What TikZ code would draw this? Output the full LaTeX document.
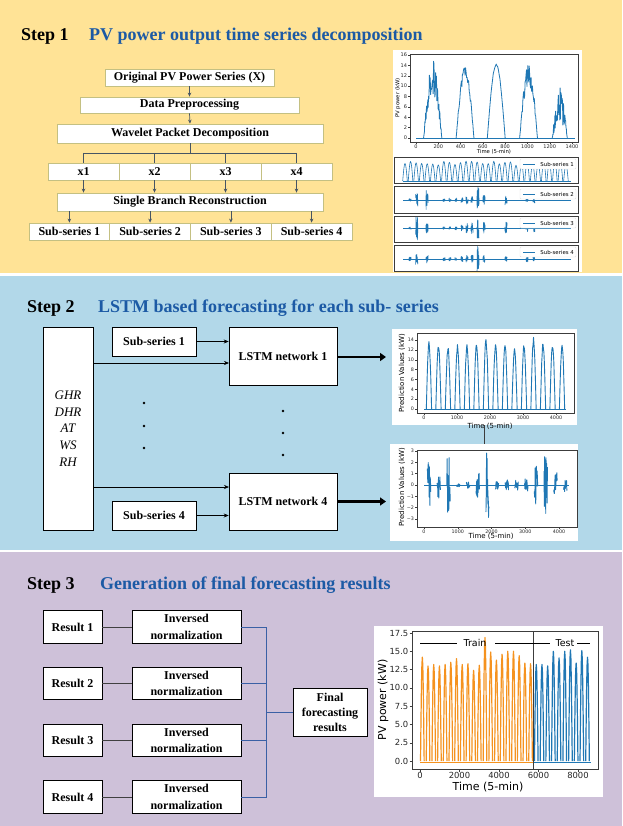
\documentclass[tikz,border=0pt]{standalone}
\usepackage{fontspec}
\setmainfont{Liberation Serif}
\newfontfamily\plotfont{DejaVu Sans}
\usetikzlibrary{arrows.meta,calc}
\definecolor{bgyellow}{RGB}{255,227,150}
\definecolor{bgblue}{RGB}{178,216,233}
\definecolor{bglav}{RGB}{206,193,217}
\definecolor{titleblue}{RGB}{28,90,165}
\definecolor{boxkhaki}{RGB}{196,192,130}
\definecolor{connslate}{RGB}{70,85,100}
\definecolor{mplblue}{RGB}{31,119,180}
\definecolor{mplorange}{RGB}{245,146,30}
\definecolor{connblue}{RGB}{58,96,165}
\definecolor{axgrey}{RGB}{60,60,60}
% style, center, halfwidth, peak, noise, samples
\newcommand\pvhump[6]{\draw[#1] plot[domain=#2-#3:#2+#3, samples=#6] (\x,{#4*sin((\x-(#2)+(#3))/(2*(#3))*180)*(1-#5*rnd)});}
% style, center, y0, halfwidth, amplitude
\newcommand\pvburst[5]{\draw[#1] plot[domain=#2-#4:#2+#4, samples=13] (\x,{#3+#5*rand});}
\tikzset{
  steptitle/.style={font=\bfseries\fontsize{18}{20}\selectfont, inner sep=0pt, anchor=base west},
  subtitle/.style={steptitle, text=titleblue},
  s1box/.style={draw=boxkhaki, fill=white, line width=0.8pt, inner sep=0pt, font=\bfseries\fontsize{12}{14}\selectfont},
  s1arr/.style={draw=connslate, line width=0.7pt, -{Stealth[length=4pt,width=3.6pt]}},
  s1line/.style={draw=connslate, line width=0.8pt},
  s2box/.style={draw=black, fill=white, line width=0.6pt, inner sep=0pt, font=\bfseries\fontsize{12}{14}\selectfont},
  s2arr/.style={draw=black, line width=0.6pt, -{Stealth[length=5pt,width=4pt]}},
  thickarr/.style={draw=black, line width=2.2pt, -{Triangle[length=6pt,width=8pt]}},
  s3box/.style={draw=black, fill=white, line width=0.8pt, inner sep=0pt, align=center, font=\bfseries\fontsize{12}{16.7}\selectfont},
  s3line/.style={draw=black!75, line width=0.8pt},
  s3blue/.style={draw=connblue, line width=0.8pt},
  plotbg/.style={fill=white, draw=none, inner sep=0pt},
  axframe/.style={draw=axgrey, line width=0.7pt},
  tickmark/.style={draw=axgrey, line width=0.4pt},
  tickA/.style={font=\plotfont\fontsize{5}{6}\selectfont, inner sep=0.3pt, text=black!85},
  tickB/.style={font=\plotfont\fontsize{4.8}{6}\selectfont, inner sep=0.3pt, text=black!85},
  tickC/.style={font=\plotfont\fontsize{8.4}{10}\selectfont, inner sep=0.5pt, text=black!85},
  labA/.style={font=\plotfont\fontsize{5.3}{6}\selectfont, inner sep=0pt},
  labB/.style={font=\plotfont\fontsize{7}{8}\selectfont, inner sep=0pt},
  labC/.style={font=\plotfont\fontsize{11}{13}\selectfont, inner sep=0pt},
  legtext/.style={font=\plotfont\fontsize{5.4}{6}\selectfont, inner sep=0pt, anchor=east},
  pA/.style={draw=mplblue, line width=0.8pt, line join=round},
  pS/.style={draw=mplblue, line width=0.6pt, line join=round},
  pB/.style={draw=mplblue, line width=0.9pt, line join=round},
  pCb/.style={draw=mplblue, line width=1.2pt, line join=round},
  pCo/.style={draw=mplorange, line width=1.2pt, line join=round},
}
\begin{document}
\begin{tikzpicture}[x=1pt,y=-1pt]
\pgfmathsetseed{12}
\useasboundingbox (0,0) rectangle (622,826);
\fill[white] (0,0) rectangle (622,826);
\fill[bgyellow] (0,0) rectangle (622,273);
\fill[bgblue] (0,275.5) rectangle (622,550);
\fill[bglav] (0,552) rectangle (622,826);

% ---------------- Step 1 ----------------
\node[steptitle] (st1) at (21,41) {Step 1};
\node[subtitle] (st1b) at (89,41) {PV power output time series decomposition};

\node[s1box, minimum width=169pt, minimum height=17pt] (orig) at (189.5,77.5) {Original PV Power Series (X)};
\node[s1box, minimum width=219pt, minimum height=16pt] (dp) at (189.5,105) {Data Preprocessing};
\node[s1box, minimum width=266pt, minimum height=19pt] (wpd) at (190,133.5) {Wavelet Packet Decomposition};
\foreach \i/\cx in {1/83.5,2/154.5,3/225.5,4/296.5} {
  \node[s1box, minimum width=71pt, minimum height=17pt] (x\i) at (\cx,171.5) {x\i};
}
\node[s1box, minimum width=266pt, minimum height=18pt] (sbr) at (190,202) {Single Branch Reconstruction};
\foreach \i/\cx in {1/69.4,2/150.1,3/230.9,4/311.6} {
  \node[s1box, minimum width=80.75pt, minimum height=17pt] (ss\i) at (\cx,231.5) {Sub-series \i};
}

\draw[s1arr] (orig.south) -- (dp.north);
\draw[s1arr] (dp.south) -- (wpd.north);
\coordinate (br) at (190,153);
\draw[s1line] (wpd.south) -- (br);
\draw[s1line] (x1.north |- br) -- (x4.north |- br);
\foreach \i in {1,...,4} {
  \draw[s1line] (x\i.north |- br) -- (x\i.north);
  \draw[s1arr] (x\i.south) -- (x\i.south |- sbr.north);
  \draw[s1arr] (ss\i.north |- sbr.south) -- (ss\i.north);
}

% plots of step 1
\node[plotbg, minimum width=189pt, minimum height=222pt] (pA) at (487.5,161) {};
\draw[axframe] (410,54) rectangle (578,142);
\foreach \v [count=\n] in {0,2,...,16} {
  \draw[tickmark] (408,{138-\v*5.1875}) -- (410,{138-\v*5.1875});
  \node[tickA, anchor=east] (tAy\n) at (407.5,{138-\v*5.1875}) {\v};
}
\foreach \v [count=\n] in {0,200,...,1400} {
  \draw[tickmark] ({416+\v*0.11143},142) -- ({416+\v*0.11143},144);
  \node[tickA, anchor=north] (tAx\n) at ({416+\v*0.11143},144) {\v};
}
\node[labA] (pAxl) at (494,151.5) {Time (5-min)};
\node[labA, rotate=90] (pAyl) at (398,98) {PV power (kW)};
\begin{scope}[shift={(416,138)}, x=0.11143pt, y=5.1875pt]
  \draw[pA] (0,0) -- (1430,0);
  \pvhump{pA}{150}{82}{15}{0.45}{45}
  \pvhump{pA}{440}{80}{14.2}{0.18}{35}
  \pvhump{pA}{720}{80}{14.4}{0.03}{25}
  \pvhump{pA}{1010}{80}{14.6}{0.3}{40}
  \pvhump{pA}{1290}{68}{9.8}{0.7}{45}
\end{scope}

% sub-series panels
\draw[axframe] (394,157) rectangle (578,183);
\draw[axframe] (394,186.5) rectangle (578,213);
\draw[axframe] (394,216) rectangle (578,242.5);
\draw[axframe] (394,245.5) rectangle (578,271);
\draw[pS] (403,181) -- (571,181);
\foreach \k in {0,...,29} {
  \pgfmathsetmacro\cx{405+\k*5.55}
  \pgfmathsetmacro\hh{15.5+4.5*rnd}
  \draw[pS] plot[domain=\cx-2.3:\cx+2.3, samples=9] (\x,{181-\hh*sin((\x-\cx+2.3)/4.6*180)});
}
\draw[pS] (403,200) -- (571,200);
\foreach \xc/\a in {410/1.5,416.7/7,427/10,444/1.5,450/2,456/2,462/3,467/4,472/4.5,478/13,484/5,506/5,527/2,534/3} {
  \pvburst{pS}{\xc}{200}{1.1}{\a}
}
\draw[pS] (403,228) -- (571,228);
\foreach \xc/\a in {410/2,416.7/12,427/6,444/1.5,450/2.5,456/2.5,462/3,467/5,472/6,478/12,484/6,506/6,527/4,534/4} {
  \pvburst{pS}{\xc}{228}{1.1}{\a}
}
\draw[pS] (403,259) -- (571,259);
\foreach \xc/\a in {410/2,416.7/6,427/4,444/2,450/2,456/2,462/3,467/4,472/4,478/13,484/4,506/3,527/3,534/3} {
  \pvburst{pS}{\xc}{259}{1.1}{\a}
}
\foreach \yy/\n in {164/1,194/2,223/3,252/4} {
  \draw[draw=black!12, fill=white, line width=0.4pt, rounded corners=1pt] (520,{\yy-5}) rectangle (576,{\yy+5});
  \draw[pS, line width=0.7pt] (523,\yy) -- (535,\yy);
  \node[legtext] (leg\n) at (574,\yy) {Sub-series \n};
}

% ---------------- Step 2 ----------------
\node[steptitle] (st2) at (27,312.5) {Step 2};
\node[subtitle] (st2b) at (98,312.5) {LSTM based forecasting for each sub- series};

\node[s2box, minimum width=50pt, minimum height=203pt, align=center, font=\itshape\fontsize{13}{16.7}\selectfont] (env) at (68,428.5) {GHR\\DHR\\AT\\WS\\RH};
\node[s2box, minimum width=84pt, minimum height=29pt] (s1) at (154,341.5) {Sub-series 1};
\node[s2box, minimum width=108pt, minimum height=58pt] (l1) at (283,356) {LSTM network 1};
\node[s2box, minimum width=108pt, minimum height=57pt] (l4) at (283,501.5) {LSTM network 4};
\node[s2box, minimum width=84pt, minimum height=29pt] (s4) at (154,515.5) {Sub-series 4};

\coordinate (e1) at (229,363);
\coordinate (e4) at (229,487);
\draw[s2arr] (s1.east) -- (s1.east -| l1.west);
\draw[s2arr] (env.east |- e1) -- (e1);
\draw[s2arr] (env.east |- e4) -- (e4);
\draw[s2arr] (s4.east) -- (s4.east -| l4.west);
\coordinate (t1) at (386,357);
\coordinate (t4) at (386,501.5);
\draw[thickarr] (l1.east |- t1) -- (t1);
\draw[thickarr] (l4.east |- t4) -- (t4);
\foreach \yy in {403,426,448} {\fill (144,\yy) circle (1.3);}
\foreach \yy in {411,433,455} {\fill (283,\yy) circle (1.3);}

% plot B1
\node[plotbg, minimum width=185pt, minimum height=96pt] (pB1) at (484.5,377) {};
\draw[axframe] (417,333) rectangle (574,413);
\foreach \v [count=\n] in {0,2,...,14} {
  \draw[tickmark] (415,{409-\v*4.929}) -- (417,{409-\v*4.929});
  \node[tickB, anchor=east] (tB1y\n) at (414.5,{409-\v*4.929}) {\v};
}
\foreach \v [count=\n] in {0,1000,...,4000} {
  \draw[tickmark] ({424+\v*0.033},413) -- ({424+\v*0.033},415);
  \node[tickB, anchor=north] (tB1x\n) at ({424+\v*0.033},415) {\v};
}
\node[labB] (pB1xl) at (490,426) {Time (5-min)};
\node[labB, rotate=90] (pB1yl) at (402,373) {Prediction Values (kW)};
\begin{scope}[shift={(424,409)}, x=0.033pt, y=4.929pt]
  \draw[pB] (0,0) -- (4300,0);
  \foreach \p [count=\k from 0] in {13.7,13.1,12.7,13.1,13.4,13.7,14.4,13.4,13.5,12.3,13.3,14.6,13.6,13.4,13.4} {
    \pgfmathsetmacro\c{150+288*\k}
    \pvhump{pB}{\c}{80}{\p}{0.08}{13}
  }
\end{scope}

% plot B2
\node[plotbg, minimum width=188pt, minimum height=97pt] (pB2) at (484,492.5) {};
\draw[draw=axgrey, line width=0.7pt] (pB1.south) -- (pB1.south |- pB2.north);
\draw[axframe] (417,450) rectangle (577,527);
\foreach \v/\t [count=\n] in {-3/−3,-2/−2,-1/−1,0/0,1/1,2/2,3/3} {
  \draw[tickmark] (415,{485-\v*11.33}) -- (417,{485-\v*11.33});
  \node[tickB, anchor=east] (tB2y\n) at (414.5,{485-\v*11.33}) {\t};
}
\foreach \v [count=\n] in {0,1000,...,4000} {
  \draw[tickmark] ({424+\v*0.03375},527) -- ({424+\v*0.03375},529);
  \node[tickB, anchor=north] (tB2x\n) at ({424+\v*0.03375},529) {\v};
}
\node[labB] (pB2xl) at (491,536) {Time (5-min)};
\node[labB, rotate=90] (pB2yl) at (402,487) {Prediction Values (kW)};
\begin{scope}[shift={(424,485)}, x=0.03375pt, y=11.33pt]
  \draw[pB] (0,0) -- (4300,0);
  \foreach \a [count=\k from 0] in {2.1,1.3,2.6,0.15,0.3,1.1,2.9,0.4,0.5,0.5,0.6,1.7,2.6,1.1,0.7} {
    \pgfmathsetmacro\c{150+288*\k}
    \pvburst{pB}{\c}{0}{50}{\a}
  }
\end{scope}

% ---------------- Step 3 ----------------
\node[steptitle] (st3) at (27,589) {Step 3};
\node[subtitle] (st3b) at (100,589) {Generation of final forecasting results};

\foreach \i/\yy in {1/627,2/683.5,3/740.5,4/797} {
  \node[s3box, minimum width=59pt, minimum height=32.5pt] (r\i) at (72.5,\yy) {Result \i};
  \node[s3box, minimum width=109pt, minimum height=32.5pt] (inv\i) at (186.5,\yy) {Inversed\\normalization};
  \draw[s3line] (r\i.east) -- (inv\i.west);
}
\node[s3box, minimum width=74pt, minimum height=48pt, font=\bfseries\fontsize{12}{15}\selectfont] (final) at (330,712) {Final\\forecasting\\results};
\coordinate (bus) at (266,712);
\draw[s3blue] (inv1.east) -| (bus);
\draw[s3blue] (inv4.east) -| (bus);
\draw[s3blue] (inv2.east) -- (inv2.east -| bus);
\draw[s3blue] (inv3.east) -- (inv3.east -| bus);
\draw[s3blue] (bus) -- (final.west);

% plot C
\node[plotbg, minimum width=229pt, minimum height=171pt] (pC) at (488.5,711.5) {};
\draw[axframe] (412,631) rectangle (598,769);
\foreach \v [count=\n] in {0.0,2.5,5.0,7.5,10.0,12.5,15.0,17.5} {
  \draw[tickmark] (409.5,{761-\v*7.314}) -- (412,{761-\v*7.314});
  \node[tickC, anchor=east] (tCy\n) at (409,{761-\v*7.314}) {\v};
}
\foreach \v [count=\n] in {0,2000,...,8000} {
  \draw[tickmark] ({420+\v*0.01975},769) -- ({420+\v*0.01975},771.5);
  \node[tickC, anchor=north] (tCx\n) at ({420+\v*0.01975},772) {\v};
}
\node[labC] (pCxl) at (488,787) {Time (5-min)};
\node[labC, rotate=90] (pCyl) at (383,700) {PV power (kW)};
\begin{scope}[shift={(420,761)}, x=0.01975pt, y=7.314pt]
  \draw[pCo] (0,-0.15) -- (5720,-0.15);
  \draw[pCb] (5720,-0.15) -- (8640,-0.15);
  \foreach \p [count=\k from 0] in {14.2,13,13.2,13,13.2,13.5,14,13.2,13.3,12.4,13.1,16.9,14.9,13.8,14.6,15,15,14.4,13.4,13.3} {
    \pgfmathsetmacro\c{118+288.5*\k}
    \pvhump{pCo}{\c}{92}{\p}{0}{9}
  }
  \foreach \p [count=\k from 20] in {13.2,13.2,13,15,14.1,15,15.2,13.4,15.1,14.2} {
    \pgfmathsetmacro\c{118+288.5*\k}
    \pvhump{pCb}{\c}{92}{\p}{0}{9}
  }
\end{scope}
\draw[draw=axgrey, line width=0.9pt] (533,631) -- (533,769);
\draw[black, line width=0.6pt] (420,643) -- (457,643);
\draw[black, line width=0.6pt] (495,643) -- (550,643);
\draw[black, line width=0.6pt] (577,643) -- (590,643);
\node[font=\plotfont\fontsize{9.5}{11}\selectfont, inner sep=0pt] (train) at (475,643) {Train};
\node[font=\plotfont\fontsize{9.5}{11}\selectfont, inner sep=0pt] (test) at (565,643) {Test};
\end{tikzpicture}
\end{document}
